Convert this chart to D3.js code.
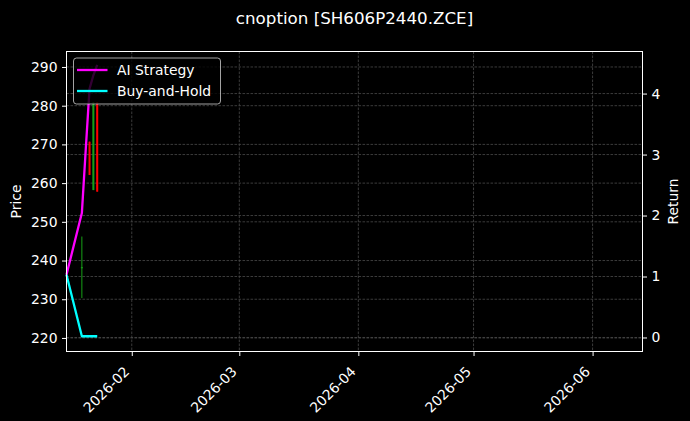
<!DOCTYPE html>
<html lang='en'>
  <meta charset='utf-8'>
  <style>
    body{
      margin: 0;
      background: #000;
    }
    svg{
      display: block;
      font-family: 'DejaVu Sans', sans-serif;
    }
  </style>
  <body>
    <svg id='chart' width='690' height='421'></svg>

    <script src='https://d3js.org/d3.v7.min.js'></script>
    <script>
      // 数据：回报曲线
      const lineDates = ['2026-01-15', '2026-01-19', '2026-01-20', '2026-01-21', '2026-01-22', '2026-01-23']
      const aiReturn = [1.03, 2.04, 3.07, 4.08, 4.30, 4.47]
      const buyHoldReturn = [1.03, 0.02, 0.02, 0.02, 0.02, 0.02]

      // 数据：K线
      const candleDates = ['2026-01-19', '2026-01-21', '2026-01-22', '2026-01-23']
      const candleOpen = [238.0, 270.7, 258.2, 280.9]
      const candleClose = [238.3, 262.1, 280.9, 257.8]
      const candleHigh = [246.2, 270.7, 280.9, 280.9]
      const candleLow = [230.3, 262.1, 258.2, 257.8]

      const priceTicks = [220, 230, 240, 250, 260, 270, 280, 290]
      const returnTicks = [0, 1, 2, 3, 4]
      const monthTicks = ['2026-02-01', '2026-03-01', '2026-04-01', '2026-05-01', '2026-06-01']

      const titleText = 'cnoption [SH606P2440.ZCE]'
      const seriesNames = ['AI Strategy', 'Buy-and-Hold']
      const seriesColors = ['#ff00ff', '#00ffff']

      const parseDay = d3.timeParse('%Y-%m-%d')
      const fmtMonth = d3.timeFormat('%Y-%m')

      const plotL = 66.5, plotR = 642.5, plotT = 51.5, plotB = 351.5

      let svg = d3.select('#chart')

      let x = d3.scaleTime()
        .domain([new Date(2026, 0, 15), new Date(2026, 5, 14)])
        .range([plotL, plotR])
      let yPrice = d3.scaleLinear().domain([216.5, 294.0]).range([plotB, plotT])
      let yRet = d3.scaleLinear().domain([-0.23, 4.69]).range([plotB, plotT])

      svg.append('rect').attr('width', 690).attr('height', 421).attr('fill', '#000')

      // 网格
      let grid = svg.append('g')
        .attr('stroke', '#4a4a4a')
        .attr('stroke-width', 0.8)
        .attr('stroke-dasharray', '2.6,1.4')
      grid.selectAll('.gx').data(monthTicks).enter().append('line')
        .attr('x1', d => x(parseDay(d))).attr('x2', d => x(parseDay(d)))
        .attr('y1', plotT).attr('y2', plotB)
      grid.selectAll('.gp').data(priceTicks).enter().append('line')
        .attr('x1', plotL).attr('x2', plotR)
        .attr('y1', d => yPrice(d)).attr('y2', d => yPrice(d))
      grid.selectAll('.gr').data(returnTicks).enter().append('line')
        .attr('x1', plotL).attr('x2', plotR)
        .attr('y1', d => yRet(d)).attr('y2', d => yRet(d))

      // K线
      let candles = svg.append('g')
      candleDates.forEach((d, i) => {
        let cx = x(parseDay(d))
        let col = candleClose[i] >= candleOpen[i] ? '#16a016' : '#ff0000'
        candles.append('line')
          .attr('x1', cx).attr('x2', cx)
          .attr('y1', yPrice(candleHigh[i])).attr('y2', yPrice(candleLow[i]))
          .attr('stroke', col).attr('stroke-width', 1)
        let y0 = yPrice(Math.max(candleOpen[i], candleClose[i]))
        let y1 = yPrice(Math.min(candleOpen[i], candleClose[i]))
        candles.append('rect')
          .attr('x', cx - 1).attr('width', 2)
          .attr('y', y0).attr('height', Math.max(0.5, y1 - y0))
          .attr('fill', col)
      })

      // 回报曲线
      const series = [aiReturn, buyHoldReturn]
      series.forEach((vals, k) => {
        let line = d3.line()
          .x((v, i) => x(parseDay(lineDates[i])))
          .y(v => yRet(v))
        svg.append('path')
          .attr('d', line(vals))
          .attr('fill', 'none')
          .attr('stroke', seriesColors[k])
          .attr('stroke-width', 2.3)
          .attr('stroke-linejoin', 'round')
      })

      // 坐标轴
      let axisBottom = d3.axisBottom(x)
        .tickValues(monthTicks.map(parseDay))
        .tickFormat(fmtMonth)
        .tickSize(4.5).tickPadding(3)
      let gx = svg.append('g').attr('transform', `translate(0,${plotB})`).call(axisBottom)
      gx.selectAll('text')
        .attr('text-anchor', 'end')
        .attr('dy', null)
        .attr('y', null)
        .attr('transform', 'translate(-2,21) rotate(-45)')

      let axisLeft = d3.axisLeft(yPrice).tickValues(priceTicks).tickSize(4.5).tickPadding(4.5)
      svg.append('g').attr('transform', `translate(${plotL},0)`).call(axisLeft)

      let axisRight = d3.axisRight(yRet).tickValues(returnTicks).tickFormat(d3.format('d'))
        .tickSize(4.5).tickPadding(4.5)
      svg.append('g').attr('transform', `translate(${plotR},0)`).call(axisRight)

      svg.selectAll('.tick line').attr('stroke', '#fff')
      svg.selectAll('.tick text').attr('fill', '#fff').style('font-size', '13.9px')
        .style('font-family', "'DejaVu Sans', sans-serif")
      svg.selectAll('.domain').remove()

      svg.append('rect')
        .attr('x', plotL).attr('y', plotT)
        .attr('width', plotR - plotL).attr('height', plotB - plotT)
        .attr('fill', 'none').attr('stroke', '#fff').attr('stroke-width', 1)

      // 标题、轴标签
      svg.append('text')
        .attr('x', (plotL + plotR) / 2).attr('y', 24)
        .attr('text-anchor', 'middle')
        .attr('fill', '#fff').style('font-size', '16.7px')
        .text(titleText)

      svg.append('text')
        .attr('transform', `translate(21,${(plotT + plotB) / 2}) rotate(-90)`)
        .attr('text-anchor', 'middle')
        .attr('fill', '#fff').style('font-size', '13.9px')
        .text('Price')

      svg.append('text')
        .attr('transform', `translate(678,${(plotT + plotB) / 2}) rotate(-90)`)
        .attr('text-anchor', 'middle')
        .attr('fill', '#fff').style('font-size', '13.9px')
        .text('Return')

      // 图例
      let legend = svg.append('g')
      legend.append('rect')
        .attr('x', 73.5).attr('y', 58).attr('width', 147).attr('height', 46)
        .attr('rx', 3).attr('ry', 3)
        .attr('fill', '#000').attr('fill-opacity', 0.8)
        .attr('stroke', '#ccc').attr('stroke-opacity', 0.8).attr('stroke-width', 1)
      seriesNames.forEach((name, k) => {
        let ly = 70 + k * 21
        legend.append('line')
          .attr('x1', 77).attr('x2', 107.5)
          .attr('y1', ly).attr('y2', ly)
          .attr('stroke', seriesColors[k]).attr('stroke-width', 2.3)
        legend.append('text')
          .attr('x', 117).attr('y', ly)
          .attr('dominant-baseline', 'central')
          .attr('fill', '#fff').style('font-size', '13.9px')
          .text(name)
      })
    </script>
</body>
</html>
